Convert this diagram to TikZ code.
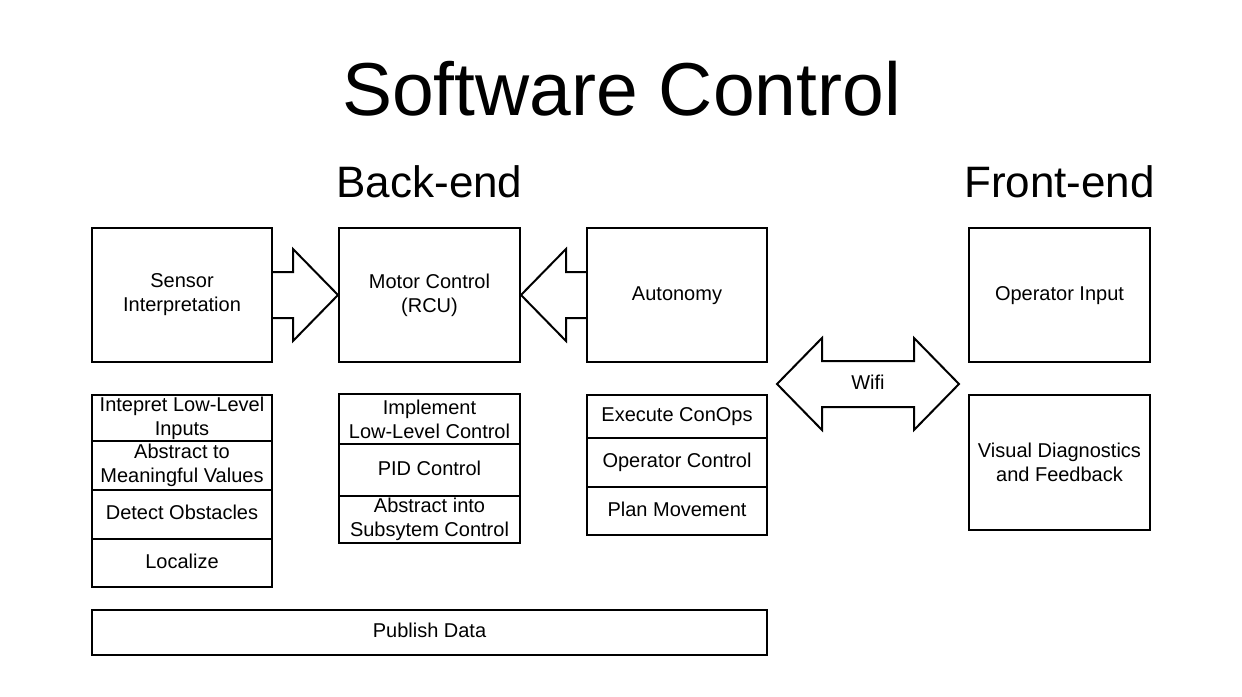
\documentclass[tikz,border=0pt]{standalone}
\usepackage{fontspec}
\setmainfont{Liberation Sans}
\usepackage{tikz}
\usetikzlibrary{arrows,calc,shapes.arrows}

\begin{document}
\begin{tikzpicture}[x=1pt,y=-1pt,
    box/.style={draw, line width=2pt, inner sep=0pt, align=center, font=\fontsize{20}{24}\selectfont},
    oneline/.style={text height=15pt, text depth=5pt},
    fat/.style={draw, line width=2pt, line join=miter}]
          \useasboundingbox (0,0) rectangle (1242,696);

          \node[anchor=base, font=\fontsize{75}{90}\selectfont] (Title) at (621.5,115) {Software Control};
          \node[anchor=base, font=\fontsize{44}{53}\selectfont] (Backend) at (429.5,197) {Back-end};
          \node[anchor=base, font=\fontsize{44}{53}\selectfont] (Frontend) at (1059.5,197) {Front-end};

          \node[box, minimum width=180, minimum height=134] (Sensor) at (182,295) {Sensor\\Interpretation};
          \node[box, minimum width=181, minimum height=134] (Motor) at (429.5,295) {Motor Control\\(RCU)};
          \node[box, oneline, minimum width=180, minimum height=134] (Autonomy) at (677,295) {Autonomy};
          \node[box, oneline, minimum width=181, minimum height=134] (OperatorInput) at (1059.5,295) {Operator Input};
          \node[box, minimum width=181, minimum height=135] (Visual) at (1059.5,462) {Visual Diagnostics\\and Feedback};

          % sensor tasks
          \node[box, minimum width=180, minimum height=46] (Interpret) at (182,418) {Intepret Low-Level\\Inputs};
          \node[box, minimum width=180, minimum height=49] (AbstractValues) at (182,465.5) {Abstract to\\Meaningful Values};
          \node[box, oneline, minimum width=180, minimum height=49] (Detect) at (182,514.5) {Detect Obstacles};
          \node[box, oneline, minimum width=180, minimum height=48] (Localize) at (182,563) {Localize};

          % motor tasks
          \node[box, minimum width=181, minimum height=50] (Implement) at (429.5,419) {Implement\\Low-Level Control};
          \node[box, oneline, minimum width=181, minimum height=52] (PID) at (429.5,470) {PID Control};
          \node[box, minimum width=181, minimum height=47] (Subsystem) at (429.5,519.5) {Abstract into\\Subsytem Control};

          % autonomy tasks
          \node[box, oneline, minimum width=180, minimum height=43] (ConOps) at (677,416.5) {Execute ConOps};
          \node[box, oneline, minimum width=180, minimum height=49] (OperatorControl) at (677,462.5) {Operator Control};
          \node[box, oneline, minimum width=180, minimum height=48] (Plan) at (677,511) {Plan Movement};

          \node[box, oneline, minimum width=675, minimum height=45] (Publish) at (429.5,632.5) {Publish Data};

          \draw[fat] ($(Sensor.east)+(0,-23)$) -| ($(Motor.west)+(-45,-46)$) -- (Motor.west) -- ($(Motor.west)+(-45,46)$) |- ($(Sensor.east)+(0,23)$);
          \draw[fat] ($(Autonomy.west)+(0,-23)$) -| ($(Motor.east)+(45,-46)$) -- (Motor.east) -- ($(Motor.east)+(45,46)$) |- ($(Autonomy.west)+(0,23)$);

          \node[oneline, font=\fontsize{20}{24}\selectfont] (Wifi) at (868,384) {Wifi};
          \draw[fat] ($(Wifi)+(-91,0)$) -- ++(45,-46) -- ++(0,23) -- ++(92,0) -- ++(0,-23) -- ++(45,46)
                -- ++(-45,46) -- ++(0,-23) -- ++(-92,0) -- ++(0,23) -- cycle;
        \end{tikzpicture}
\end{document}
